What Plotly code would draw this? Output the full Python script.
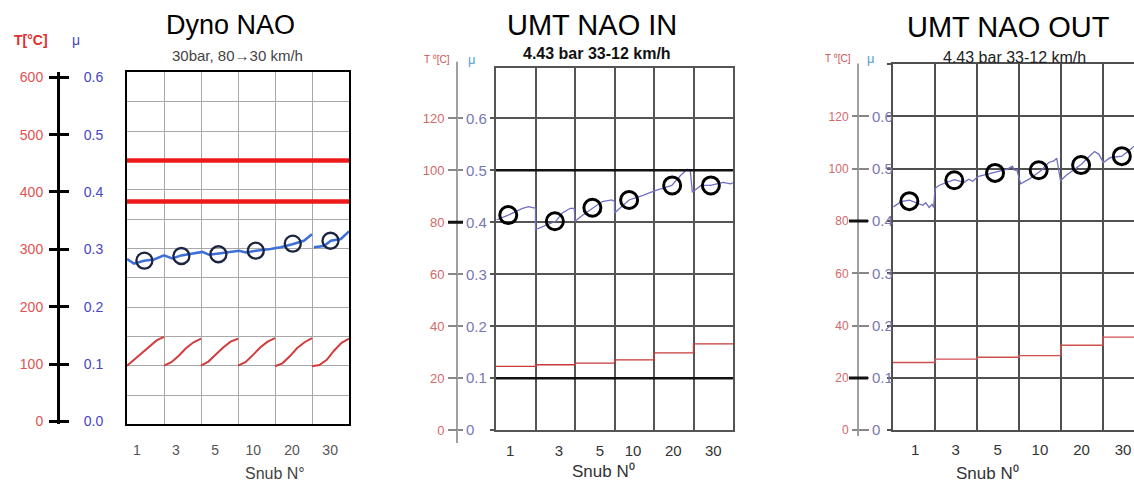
import plotly.graph_objects as go

W, H = 1134, 491


def fx(px):
    return px / W


def fy(py):
    return 1 - py / H


FONT = "Liberation Sans, Arial, sans-serif"

# ---------------- data ----------------
snub_labels = ["1", "3", "5", "10", "20", "30"]

# Panel 1 : Dyno NAO (x in snub-column units, 0..6)
dyno_mu_x = [0.0, 0.19, 0.46, 0.73, 1.0, 1.22, 1.47, 1.81, 2.04, 2.22, 2.44, 2.8, 3.03,
             3.21, 3.48, 3.88, 4.15, 4.47, 4.78, 5.0, None, 5.05, 5.32, 5.51, 5.78, 6.0]
dyno_mu = [0.282, 0.274, 0.279, 0.281, 0.288, 0.283, 0.288, 0.291, 0.294, 0.289, 0.291, 0.294, 0.296,
           0.293, 0.296, 0.299, 0.302, 0.307, 0.313, 0.324, None, 0.302, 0.304, 0.313, 0.316, 0.329]
dyno_circle_x = [0.47, 1.47, 2.47, 3.48, 4.48, 5.5]
dyno_circle_mu = [0.279, 0.287, 0.290, 0.296, 0.308, 0.313]
dyno_T_offsets = [0.0, 0.2, 0.4, 0.6, 0.8, 1.0]
dyno_T = [
    [100, 111, 122, 133, 143, 149],
    [100, 106, 117, 130, 140, 146],
    [100, 107, 119, 131, 141, 146],
    [100, 106, 118, 131, 141, 147],
    [99, 104, 116, 130, 140, 147],
    [99, 101, 110, 126, 139, 146],
]
dyno_limit_T = [450, 380]
dyno_tick_pos = [0.27, 1.32, 2.38, 3.41, 4.46, 5.49]

# Panel 2 : UMT NAO IN
in_mu_x = [0.02, 0.31, 0.67, 0.83, 0.95, 1.0, 1.0, 1.23, 1.51, 1.68, 1.88, 1.98, 2.0, 2.2, 2.45, 2.69,
           2.93, 3.0, 3.0, 3.37, 3.72, 4.03, 4.45, 4.67, 4.84, 4.92, 4.97, 5.19, 5.43, 5.75, 5.94, 6.0]
in_mu = [0.405, 0.414, 0.427, 0.430, 0.428, 0.428, 0.386, 0.393, 0.402, 0.418, 0.427, 0.427, 0.402, 0.414,
         0.428, 0.440, 0.443, 0.440, 0.418, 0.443, 0.452, 0.461, 0.471, 0.490, 0.502, 0.499, 0.458, 0.471,
         0.471, 0.477, 0.474, 0.476]
in_circle_x = [0.31, 1.49, 2.44, 3.37, 4.46, 5.44]
in_circle_mu = [0.414, 0.402, 0.428, 0.443, 0.471, 0.471]
in_T = [24.6, 25.2, 25.8, 27.1, 29.8, 33.2]
in_tick_pos = [0.36, 1.59, 2.63, 3.47, 4.49, 5.5]

# Panel 3 : UMT NAO OUT
out_mu_x = [0.01, 0.19, 0.39, 0.6, 0.71, 0.78, 0.86, 0.93, 0.97, 1.0, 1.09, 1.46, 1.7, 1.8, 1.9, 2.02,
            2.43, 2.72, 2.84, 2.9, 2.95, 3.04, 3.24, 3.52, 3.71, 3.83, 3.9, 3.99, 4.12, 4.48, 4.68, 4.8,
            4.9, 5.01, 5.17, 5.45, 5.64, 5.74]
out_mu = [0.427, 0.437, 0.440, 0.434, 0.430, 0.435, 0.426, 0.432, 0.426, 0.462, 0.468, 0.479, 0.474,
          0.480, 0.476, 0.485, 0.493, 0.499, 0.505, 0.497, 0.498, 0.471, 0.480, 0.496, 0.512, 0.515,
          0.520, 0.477, 0.487, 0.508, 0.524, 0.533, 0.528, 0.512, 0.521, 0.524, 0.536, 0.543]
out_circle_x = [0.39, 1.46, 2.43, 3.47, 4.48, 5.45]
out_circle_mu = [0.438, 0.478, 0.492, 0.497, 0.507, 0.524]
out_T = [25.9, 27.2, 27.9, 28.5, 32.5, 35.6]
out_tick_pos = [0.53, 1.49, 2.49, 3.5, 4.49, 5.48]

# ---------------- traces ----------------
fig = go.Figure()

# panel 1
for T in dyno_limit_T:
    fig.add_trace(go.Scatter(x=[0, 6], y=[T, T], mode="lines", xaxis="x", yaxis="y2",
                             line=dict(color="#ee1a1a", width=4.5), hoverinfo="skip"))
tx, ty = [], []
for k, col in enumerate(dyno_T):
    for off, v in zip(dyno_T_offsets, col):
        tx.append(k + off)
        ty.append(v)
    tx.append(None)
    ty.append(None)
fig.add_trace(go.Scatter(x=tx, y=ty, mode="lines", xaxis="x", yaxis="y2",
                         line=dict(color="#d23c3c", width=2)))
fig.add_trace(go.Scatter(x=dyno_mu_x, y=dyno_mu, mode="lines", xaxis="x", yaxis="y",
                         line=dict(color="#3d6fd9", width=2.5)))
fig.add_trace(go.Scatter(x=dyno_circle_x, y=dyno_circle_mu, mode="markers", xaxis="x", yaxis="y",
                         marker=dict(symbol="circle-open", size=16, color="#1b2440",
                                     line=dict(width=2.3, color="#1b2440"))))

# panel 2
fig.add_trace(go.Scatter(x=list(range(6)) + [6], y=in_T + [in_T[-1]], mode="lines", line_shape="hv",
                         xaxis="x2", yaxis="y6", line=dict(color="#c83a3a", width=1.3)))
fig.add_trace(go.Scatter(x=in_mu_x, y=in_mu, mode="lines", xaxis="x2", yaxis="y5",
                         line=dict(color="#6f6fc4", width=1.3)))
fig.add_trace(go.Scatter(x=in_circle_x, y=in_circle_mu, mode="markers", xaxis="x2", yaxis="y5",
                         marker=dict(symbol="circle-open", size=17, color="black",
                                     line=dict(width=3, color="black"))))

# panel 3
fig.add_trace(go.Scatter(x=list(range(6)) + [6], y=out_T + [out_T[-1]], mode="lines", line_shape="hv",
                         xaxis="x3", yaxis="y10", line=dict(color="#d05050", width=1.3)))
fig.add_trace(go.Scatter(x=out_mu_x, y=out_mu, mode="lines", xaxis="x3", yaxis="y9",
                         line=dict(color="#6f6fc4", width=1.3)))
fig.add_trace(go.Scatter(x=out_circle_x, y=out_circle_mu, mode="markers", xaxis="x3", yaxis="y9",
                         marker=dict(symbol="circle-open", size=17, color="black",
                                     line=dict(width=3, color="black"))))

# empty traces binding the label-only axes to their own panel
for xa, ya in [("x", "y3"), ("x", "y4"), ("x2", "y7"), ("x2", "y8"), ("x3", "y11"), ("x3", "y12")]:
    fig.add_trace(go.Scatter(x=[None], y=[None], mode="lines", xaxis=xa, yaxis=ya,
                             hoverinfo="skip", showlegend=False))

# ---------------- layout ----------------
RED1, BLUE1 = "#e05252", "#4646c4"
RED2, BLUE2 = "#d06a6a", "#7777b4"

layout = dict(
    width=W, height=H, margin=dict(l=0, r=0, t=0, b=0),
    paper_bgcolor="white", plot_bgcolor="rgba(0,0,0,0)", showlegend=False,
    font=dict(family=FONT),
    # ----- panel 1
    xaxis=dict(domain=[fx(127), fx(349)], anchor="y", range=[0, 6],
               tickmode="array", tickvals=dyno_tick_pos, ticktext=snub_labels, ticks="",
               showgrid=False, zeroline=False,
               minor=dict(tickmode="array", tickvals=[1, 2, 3, 4, 5], showgrid=True,
                          gridcolor="#a8a8a8", gridwidth=1, ticks=""),
               showline=True, mirror=True, linecolor="black", linewidth=2,
               tickfont=dict(size=14, color="#555"), ticklabelstandoff=12),
    yaxis=dict(domain=[fy(431), fy(71)], anchor="x", range=[0, 0.6],
               tickmode="linear", tick0=0, dtick=0.05, showticklabels=False, ticks="",
               showgrid=True, gridcolor="#a8a8a8", gridwidth=1, zeroline=False,
               showline=True, mirror=True, linecolor="black", linewidth=2),
    yaxis2=dict(overlaying="y", range=[0, 600], visible=False),
    yaxis3=dict(overlaying="y", anchor="free", position=fx(58), side="left",
                range=[-5.1, 608.5], tickmode="array", tickvals=[0, 100, 200, 300, 400, 500, 600],
                ticks="outside", ticklen=8, tickwidth=3, tickcolor="black",
                showline=True, linecolor="black", linewidth=3, showgrid=False, zeroline=False,
                tickfont=dict(size=14, color=RED1), ticklabelstandoff=3),
    yaxis4=dict(overlaying="y", anchor="free", position=fx(58), side="right",
                range=[-0.0051, 0.6085], tickmode="array",
                tickvals=[0, 0.1, 0.2, 0.3, 0.4, 0.5, 0.6],
                ticktext=["0.0", "0.1", "0.2", "0.3", "0.4", "0.5", "0.6"],
                ticks="outside", ticklen=10, tickwidth=3, tickcolor="black",
                showline=False, showgrid=False, zeroline=False,
                tickfont=dict(size=14, color=BLUE1), ticklabelstandoff=12),
    # ----- panel 2
    xaxis2=dict(domain=[fx(496), fx(733)], anchor="y5", range=[0, 6],
                tickmode="array", tickvals=in_tick_pos, ticktext=snub_labels, ticks="",
                showgrid=False, zeroline=False,
                minor=dict(tickmode="array", tickvals=[1, 2, 3, 4, 5], showgrid=True,
                           gridcolor="#555", gridwidth=1.5, ticks=""),
                showline=True, mirror=True, linecolor="#555", linewidth=1.5,
                tickfont=dict(size=15, color="#333"), ticklabelstandoff=6),
    yaxis5=dict(domain=[fy(437), fy(67)], anchor="x2", range=[0, 0.696],
                tickmode="linear", tick0=0, dtick=0.1, showticklabels=False,
                ticks="outside", ticklen=4, tickcolor="#555", tickwidth=1.5,
                showgrid=True, gridcolor="#555", gridwidth=1.5, zeroline=False,
                showline=True, mirror=True, linecolor="#555", linewidth=1.5),
    yaxis6=dict(overlaying="y5", range=[0, 139.2], visible=False),
    yaxis7=dict(overlaying="y5", anchor="free", position=fx(457), side="left",
                range=[0, 139.2], tickmode="array", tickvals=[0, 20, 40, 60, 80, 100, 120],
                ticks="outside", ticklen=9, tickwidth=1.5, tickcolor="#888",
                showline=False, showgrid=False, zeroline=False,
                tickfont=dict(size=13, color=RED2), ticklabelstandoff=1),
    yaxis8=dict(overlaying="y5", anchor="free", position=fx(457), side="right",
                range=[0, 0.696], tickmode="array", tickvals=[0, 0.1, 0.2, 0.3, 0.4, 0.5, 0.6],
                ticktext=["0", "0.1", "0.2", "0.3", "0.4", "0.5", "0.6"],
                ticks="outside", ticklen=5, tickwidth=1.5, tickcolor="#888",
                showline=False, showgrid=False, zeroline=False,
                tickfont=dict(size=15, color=BLUE2), ticklabelstandoff=0),
    # ----- panel 3
    xaxis3=dict(domain=[fx(893), 1.0], anchor="y9", range=[0, 5.74],
                tickmode="array", tickvals=out_tick_pos, ticktext=snub_labels, ticks="",
                showgrid=False, zeroline=False,
                minor=dict(tickmode="array", tickvals=[1, 2, 3, 4, 5], showgrid=True,
                           gridcolor="#505050", gridwidth=1.8, ticks=""),
                showline=True, mirror=True, linecolor="#505050", linewidth=1.8,
                tickfont=dict(size=15, color="#333"), ticklabelstandoff=5),
    yaxis9=dict(domain=[fy(437), fy(62)], anchor="x3", range=[0, 0.701],
                tickmode="linear", tick0=0, dtick=0.1, showticklabels=False,
                ticks="outside", ticklen=4, tickcolor="#505050", tickwidth=1.8,
                showgrid=True, gridcolor="#505050", gridwidth=1.8, zeroline=False,
                showline=True, mirror=False, linecolor="#505050", linewidth=1.8),
    yaxis10=dict(overlaying="y9", range=[0, 140.2], visible=False),
    yaxis11=dict(overlaying="y9", anchor="free", position=fx(858), side="left",
                 range=[0, 140.2], tickmode="array", tickvals=[0, 20, 40, 60, 80, 100, 120],
                 ticks="outside", ticklen=6, tickwidth=1.5, tickcolor="#888",
                 showline=False, showgrid=False, zeroline=False,
                 tickfont=dict(size=12, color=RED2), ticklabelstandoff=1),
    yaxis12=dict(overlaying="y9", anchor="free", position=fx(858), side="right",
                 range=[0, 0.701], tickmode="array", tickvals=[0, 0.1, 0.2, 0.3, 0.4, 0.5, 0.6],
                 ticktext=["0", "0.1", "0.2", "0.3", "0.4", "0.5", "0.6"],
                 ticks="outside", ticklen=10, tickwidth=1.5, tickcolor="#888",
                 showline=False, showgrid=False, zeroline=False,
                 tickfont=dict(size=15, color=BLUE2), ticklabelstandoff=0),
)

shapes = [
    # panel 2 emphasised grid lines
    dict(type="line", xref="x2 domain", yref="y5", x0=0, x1=1, y0=0.5, y1=0.5,
         line=dict(color="#111", width=2.5)),
    dict(type="line", xref="x2 domain", yref="y5", x0=0, x1=1, y0=0.1, y1=0.1,
         line=dict(color="#111", width=2.5)),
    # left axis lines of panels 2 and 3
    dict(type="line", xref="paper", yref="paper", x0=fx(457), x1=fx(457), y0=fy(450), y1=fy(60),
         line=dict(color="#808080", width=1.5)),
    dict(type="line", xref="paper", yref="paper", x0=fx(858), x1=fx(858), y0=fy(443), y1=fy(62),
         line=dict(color="#808080", width=1.5)),
    # bold ticks
    dict(type="line", xref="paper", yref="y7", x0=fx(448), x1=fx(463), y0=80, y1=80,
         line=dict(color="#111", width=3)),
    dict(type="line", xref="paper", yref="y11", x0=fx(849), x1=fx(868), y0=80, y1=80,
         line=dict(color="#111", width=3)),
    dict(type="line", xref="paper", yref="y11", x0=fx(849), x1=fx(868), y0=20, y1=20,
         line=dict(color="#111", width=3)),
]


def ann(text, x, y, size, color="black", bold=False, xanchor="center"):
    if bold:
        text = "<b>" + text + "</b>"
    return dict(text=text, x=fx(x), y=fy(y), xref="paper", yref="paper", showarrow=False,
                xanchor=xanchor, yanchor="middle", font=dict(size=size, color=color, family=FONT))


annotations = [
    ann("Dyno NAO", 230, 22, 27),
    ann("30bar, 80→30 km/h", 237, 54, 15, "#444"),
    ann("T[°C]", 31, 38, 14, "#e03030", bold=True),
    ann("μ", 76, 38, 14, BLUE1),
    ann("Snub N°", 275, 481, 16, "#444"),

    ann("UMT NAO IN", 592, 23, 29),
    ann("4.43 bar 33-12 km/h", 597, 52, 16, "#111", bold=True),
    ann("T ⁰[C]", 437, 58, 10, "#d05050"),
    ann("μ", 472, 58, 13, "#5aa0d0"),
    ann("Snub N⁰", 603, 479, 17, "#333"),

    ann("UMT NAO OUT", 1008, 25, 29),
    ann("4.43 bar 33-12 km/h", 1014, 56, 16, "#222"),
    ann("T ⁰[C]", 838, 57, 10, "#d05050"),
    ann("μ", 871, 57, 13, "#5aa0d0"),
    ann("Snub N⁰", 987, 481, 17, "#333"),
]

layout["shapes"] = shapes
layout["annotations"] = annotations
fig.update_layout(**layout)

fig.write_html("out.html")
